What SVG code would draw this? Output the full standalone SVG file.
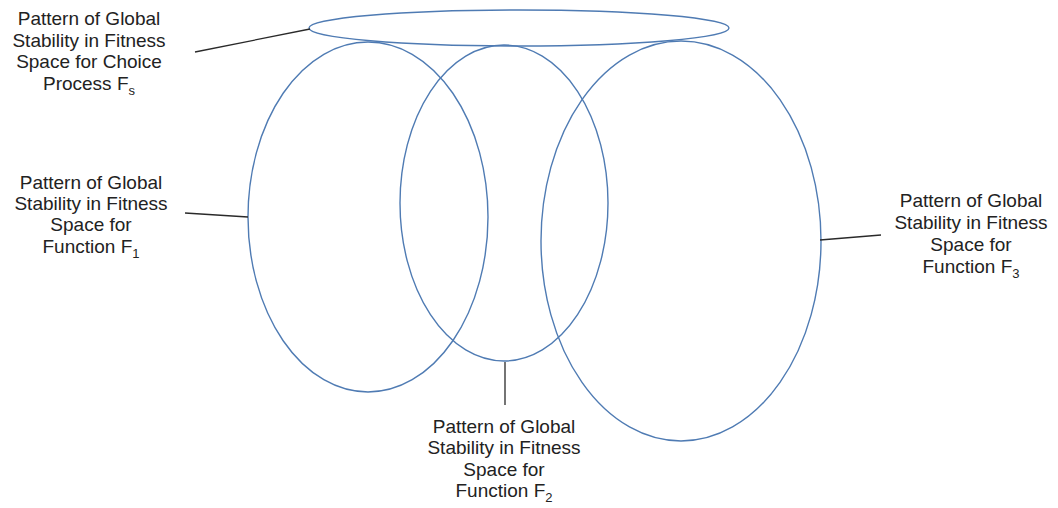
<svg xmlns="http://www.w3.org/2000/svg" width="1058" height="508" viewBox="0 0 1058 508">
<style>
.ell{fill:none;stroke:#4f7bb3;stroke-width:1.4}
.con{fill:none;stroke:#2a2a2a;stroke-width:1.3}
text{font-family:"Liberation Sans",Arial,sans-serif;font-size:19px;fill:#222;text-anchor:middle}
.sub{font-size:13px}
</style>
<rect width="1058" height="508" fill="#fff"/>
<g id="F1"><ellipse class="ell" cx="368" cy="217" rx="120" ry="175"/></g>
<g id="F2"><ellipse class="ell" cx="504" cy="203" rx="104" ry="158"/></g>
<g id="F3"><ellipse class="ell" cx="681" cy="241" rx="140" ry="200"/></g>
<g id="Fs"><ellipse class="ell" cx="519" cy="28" rx="210" ry="18"/></g>
<g id="connectors">
<line class="con" x1="195" y1="52" x2="310" y2="29"/>
<line class="con" x1="185" y1="213" x2="248" y2="217"/>
<line class="con" x1="820" y1="240" x2="881" y2="235"/>
<line class="con" x1="505" y1="362" x2="505" y2="405"/>
</g>
<g id="label-Fs">
<text x="89" y="25">Pattern of Global</text>
<text x="89" y="47">Stability in Fitness</text>
<text x="89" y="68">Space for Choice</text>
<text x="89" y="90">Process F<tspan class="sub" dy="5">s</tspan></text>
</g>
<g id="label-F1">
<text x="91" y="189">Pattern of Global</text>
<text x="91" y="210">Stability in Fitness</text>
<text x="91" y="231">Space for</text>
<text x="91" y="253">Function F<tspan class="sub" dy="5">1</tspan></text>
</g>
<g id="label-F3">
<text x="971" y="207">Pattern of Global</text>
<text x="971" y="229">Stability in Fitness</text>
<text x="971" y="251">Space for</text>
<text x="971" y="273">Function F<tspan class="sub" dy="5">3</tspan></text>
</g>
<g id="label-F2">
<text x="504" y="433">Pattern of Global</text>
<text x="504" y="454">Stability in Fitness</text>
<text x="504" y="476">Space for</text>
<text x="504" y="497">Function F<tspan class="sub" dy="5">2</tspan></text>
</g>
</svg>
